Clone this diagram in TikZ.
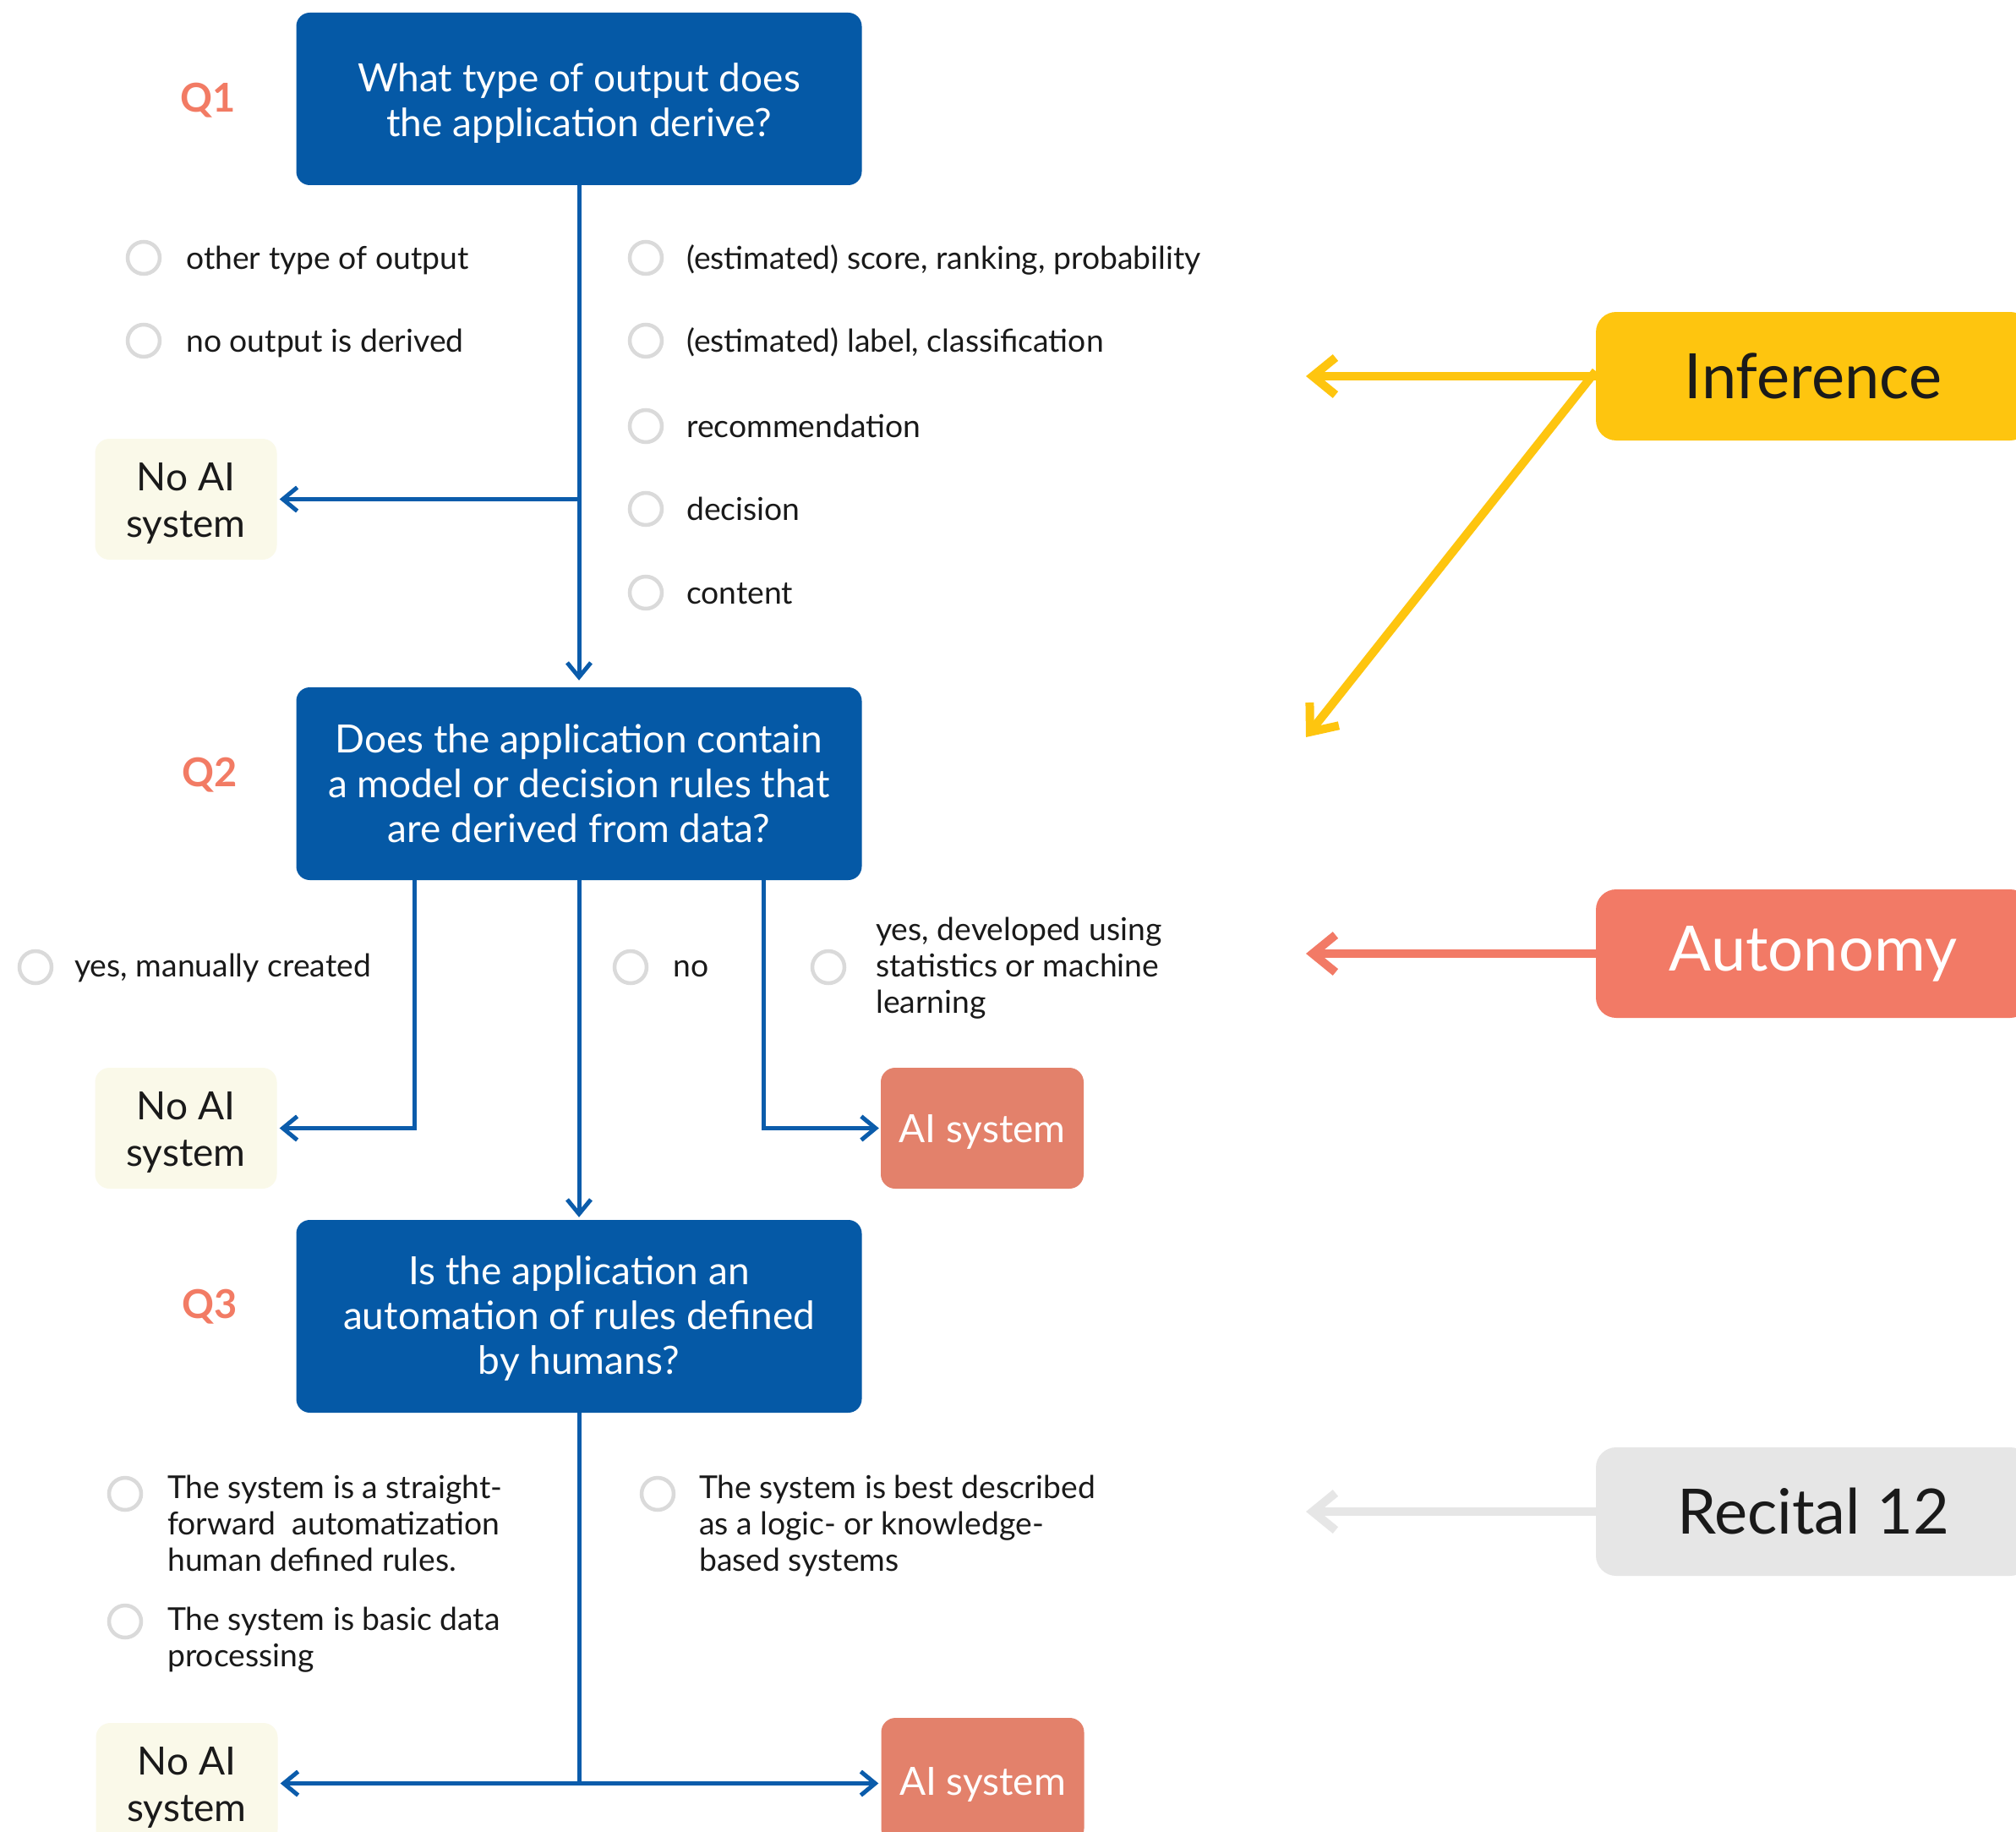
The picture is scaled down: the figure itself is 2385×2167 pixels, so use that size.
\documentclass[tikz,border=0pt]{standalone}
\usepackage{fontspec}
\setmainfont{Lato}
\usetikzlibrary{arrows.meta}
\definecolor{qblue}{HTML}{0559A6}
\definecolor{lblue}{HTML}{0B5CAB}
\definecolor{cream}{HTML}{FAF9E9}
\definecolor{aired}{HTML}{E3816B}
\definecolor{qsalmon}{HTML}{F27B64}
\definecolor{circgray}{HTML}{DADADA}
\definecolor{txt}{HTML}{1A1A1A}
\definecolor{infy}{HTML}{FEC50F}
\definecolor{autor}{HTML}{F27A66}
\definecolor{recg}{HTML}{E6E6E6}
\begin{document}
\begin{tikzpicture}[x=1pt,y=-1pt,
 qbox/.style={fill=qblue, rounded corners=16pt, minimum width=669pt, text=white, align=center, font=\fontsize{46}{53}\selectfont, inner sep=0pt},
 nobox/.style={fill=cream, rounded corners=17pt, minimum width=215pt, minimum height=143pt, align=center, font=\fontsize{46}{55}\selectfont, text=txt, inner sep=0pt},
 aibox/.style={fill=aired, rounded corners=17pt, minimum width=240pt, minimum height=143pt, font=\fontsize{46}{55}\selectfont, text=white, inner sep=0pt, text height=44pt, text depth=10pt},
 opt/.style={anchor=west, inner sep=0pt, align=left, font=\fontsize{37.3}{43}\selectfont, text=txt, execute at begin node=\strut, execute at end node=\strut},
 radio/.style={circle, draw=circgray, line width=4.5pt, minimum size=38pt, inner sep=0pt},
 conn/.style={draw=lblue, line width=5pt, -{Straight Barb[length=17pt,width=28pt]}},
 qlab/.style={font=\fontsize{47}{56}\selectfont\bfseries, text=qsalmon},
 tag/.style={rounded corners=24pt, minimum width=514pt, minimum height=152pt, font=\fontsize{74}{88}\selectfont, inner sep=0pt},
 tagarrow/.style={line width=10pt, -{Straight Barb[length=27pt,width=44pt]}}
]
\clip (0,0) rectangle (2385,2167);
\fill[white] (0,0) rectangle (2385,2167);

% Questions
\node[qbox, minimum height=204pt] (q1) at (685,117) {\rule{0pt}{44pt}What type of output does\\the application derive?};
\node[qbox, minimum height=228pt] (q2) at (685,927) {Does the application contain\\a model or decision rules that\\are derived from data?};
\node[qbox, minimum height=228pt] (q3) at (685,1557) {\rule{0pt}{39pt}Is the application an\\automation of rules defined\\by humans?};
\node[qlab] (l1) at (246,119) {Q1};
\node[qlab] (l2) at (248,917) {Q2};
\node[qlab] (l3) at (248,1546) {Q3};

% Q1 options
\node[radio] (c11) at (170,305) {};
\node[opt] (t11) at (220,310) {other type of output};
\node[radio] (c12) at (170,403) {};
\node[opt] (t12) at (220,408) {no output is derived};
\node[radio] (c13) at (764,305) {};
\node[opt] (t13) at (812,310) {(estimated) score, ranking, probability};
\node[radio] (c14) at (764,403) {};
\node[opt] (t14) at (812,408) {(estimated) label, classification};
\node[radio] (c15) at (764,504) {};
\node[opt] (t15) at (812,509) {recommendation};
\node[radio] (c16) at (764,602) {};
\node[opt] (t16) at (812,607) {decision};
\node[radio] (c17) at (764,701) {};
\node[opt] (t17) at (812,706) {content};

% Q2 options
\node[radio] (c21) at (42,1144) {};
\node[opt] (t21) at (88,1147) {yes, manually created};
\node[radio] (c22) at (746,1144) {};
\node[opt] (t22) at (796,1147) {no};
\node[radio] (c23) at (980,1144) {};
\node[opt] (t23) at (1036,1148) {yes, developed using\\statistics or machine\\learning};

% Q3 options
\node[radio] (c31) at (148,1767) {};
\node[opt] (t31) at (198,1808) {The system is a straight-\\forward~ automatization\\human defined rules.};
\node[radio] (c32) at (148,1918) {};
\node[opt] (t32) at (198,1943) {The system is basic data\\processing};
\node[radio] (c33) at (778,1767) {};
\node[opt] (t33) at (827,1808) {The system is best described\\as a logic- or knowledge-\\based systems};

% Outcomes
\node[nobox] (no1) at (220,590.5) {\rule{0pt}{42pt}No AI\\system};
\node[nobox] (no2) at (220,1334.5) {\rule{0pt}{42pt}No AI\\system};
\node[nobox] (no3) at (221,2109.5) {\rule{0pt}{42pt}No AI\\system};
\node[aibox] (ai2) at (1162,1334.5) {AI system};
\node[aibox, minimum height=148pt] (ai3) at (1162.5,2106) {AI system};

% Connectors
\draw[conn, shorten >=8pt] (q1.south) -- (q2.north);
\draw[conn, shorten >=3pt] (q1.south |- no1.east) -- (no1.east);
\draw[conn, shorten >=3pt] ([xshift=-195pt]q2.south) |- (no2.east);
\draw[conn, shorten >=2pt] ([xshift=218pt]q2.south) |- (ai2.west);
\draw[conn, shorten >=3pt] (q2.south) -- (q3.north);
\draw[conn, shorten >=3pt] (q3.south) |- (no3.east);
\draw[conn, shorten >=3pt] (q3.south) |- (ai3.west |- no3.east);

% Tags
\node[tag, fill=infy, text=txt] (inf) at (2145,445) {Inference};
\node[tag, fill=autor, text=white] (aut) at (2145,1128) {Autonomy};
\node[tag, fill=recg, text=txt] (rec) at (2145,1788) {Recital 12};
\coordinate (infA) at (1545,445);
\coordinate (infB) at (1545,872);
\coordinate (autA) at (1545,1128);
\coordinate (recA) at (1545,1788);
\draw[tagarrow, draw=infy] (inf.west) -- (infA);
\draw[tagarrow, draw=infy] ([yshift=6pt]inf.west) -- (infB);
\draw[tagarrow, draw=autor] (aut.west) -- (autA);
\draw[tagarrow, draw=recg] (rec.west) -- (recA);
\end{tikzpicture}
\end{document}
